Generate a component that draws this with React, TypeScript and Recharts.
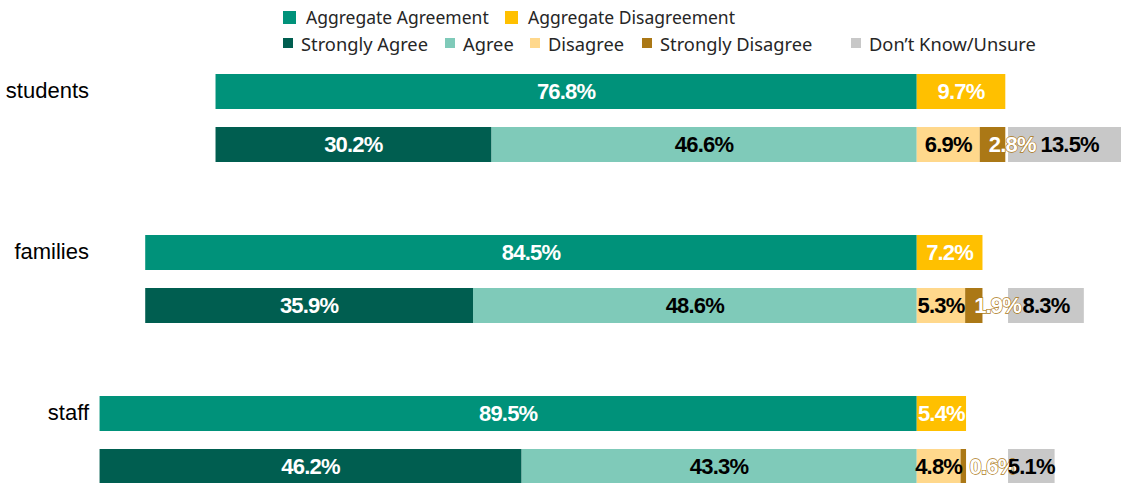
import { BarChart, Bar, XAxis, YAxis, LabelList } from 'recharts';

const groups = ['students', 'families', 'staff'];
const aggAgreement = [76.8, 84.5, 89.5];
const aggDisagreement = [9.7, 7.2, 5.4];
const stronglyAgree = [30.2, 35.9, 46.2];
const agree = [46.6, 48.6, 43.3];
const disagree = [6.9, 5.3, 4.8];
const stronglyDisagree = [2.8, 1.9, 0.6];
const unsure = [13.5, 8.3, 5.1];
// the "don't know" bar starts at a fixed point right of the disagree stack
const UNSURE_START = 10;

const COLORS = {
  aggAgree: '#00927A',
  aggDisagree: '#FFC000',
  stronglyAgree: '#005E50',
  agree: '#7FCAB9',
  disagree: '#FFD88C',
  stronglyDisagree: '#AB7816',
  unsure: '#C8C8C8',
};

// agreement goes left of zero (negative), disagreement right
const rows = groups.map((name, i) => ({
  name,
  aggAgree: -aggAgreement[i],
  aggDisagree: aggDisagreement[i],
  stronglyAgree: -stronglyAgree[i],
  agree: -agree[i],
  disagree: disagree[i],
  stronglyDisagree: stronglyDisagree[i],
  spacer: UNSURE_START - disagree[i] - stronglyDisagree[i],
  unsure: unsure[i],
}));

const labelFont = 'Liberation Sans, Arial, sans-serif';
const legendFont = '"Noto Sans", "Open Sans", sans-serif';

const fmt = (v: number) => `${Math.abs(v).toFixed(1)}%`;

function centerLabel(fill: string) {
  return (props: any) => {
    const { x, y, width, height, value } = props;
    return (
      <text
        x={x + width / 2}
        y={y + height / 2}
        textAnchor="middle"
        dominantBaseline="central"
        fill={fill}
        fontFamily={labelFont}
        fontWeight="bold"
        fontSize={22}
        letterSpacing={-0.8}
      >
        {fmt(value)}
      </text>
    );
  };
}

function outlinedLabel(props: any) {
  const { x, y, height, value } = props;
  return (
    <text
      x={x + 9}
      y={y + height / 2}
      textAnchor="start"
      dominantBaseline="central"
      fill="#fff"
      stroke={COLORS.stronglyDisagree}
      strokeWidth={1.3}
      paintOrder="stroke"
      fontFamily={labelFont}
      fontWeight="bold"
      fontSize={22}
      letterSpacing={-0.8}
    >
      {fmt(value)}
    </text>
  );
}

function GroupTick(props: any) {
  const { x, y, payload } = props;
  return (
    <text x={x} y={y - 27} textAnchor="end" dominantBaseline="central" fontSize={22} fontFamily={labelFont} fill="#000">
      {payload.value}
    </text>
  );
}

const legendRow1 = [
  { label: 'Aggregate Agreement', color: COLORS.aggAgree, left: 283 },
  { label: 'Aggregate Disagreement', color: COLORS.aggDisagree, left: 505 },
];
const legendRow2 = [
  { label: 'Strongly Agree', color: COLORS.stronglyAgree, left: 283 },
  { label: 'Agree', color: COLORS.agree, left: 445 },
  { label: 'Disagree', color: COLORS.disagree, left: 530 },
  { label: 'Strongly Disagree', color: COLORS.stronglyDisagree, left: 642 },
  { label: 'Don\u2019t Know/Unsure', color: COLORS.unsure, left: 851 },
];

function LegendItem({ label, color, left, top, box, gap, size }: any) {
  return (
    <div style={{ position: 'absolute', left, top, display: 'flex', alignItems: 'center', height: 24, transform: 'translateY(-50%)' }}>
      <span style={{ width: box, height: box, background: color, marginRight: gap, display: 'inline-block' }} />
      <span style={{ fontFamily: legendFont, fontSize: size, color: '#262626', whiteSpace: 'nowrap' }}>{label}</span>
    </div>
  );
}

export default function App() {
  return (
    <div style={{ position: 'absolute', left: 0, top: 0, width: 1121, height: 483, overflow: 'hidden', background: '#fff' }}>
      <BarChart
        layout="vertical"
        width={1145}
        height={520}
        data={rows}
        margin={{ top: 37, right: 0, bottom: 0, left: 0 }}
        barSize={35}
        barGap={18}
        stackOffset="sign"
      >
        <XAxis type="number" domain={[-90, 25]} hide />
        <YAxis type="category" dataKey="name" width={95} axisLine={false} tickLine={false} tickSize={0} tickMargin={6} tick={<GroupTick />} />
        <Bar dataKey="aggAgree" stackId="agg" fill={COLORS.aggAgree} isAnimationActive={false}>
          <LabelList dataKey="aggAgree" content={centerLabel('#fff')} />
        </Bar>
        <Bar dataKey="aggDisagree" stackId="agg" fill={COLORS.aggDisagree} isAnimationActive={false}>
          <LabelList dataKey="aggDisagree" content={centerLabel('#fff')} />
        </Bar>
        <Bar dataKey="agree" stackId="det" fill={COLORS.agree} isAnimationActive={false}>
          <LabelList dataKey="agree" content={centerLabel('#000')} />
        </Bar>
        <Bar dataKey="stronglyAgree" stackId="det" fill={COLORS.stronglyAgree} isAnimationActive={false}>
          <LabelList dataKey="stronglyAgree" content={centerLabel('#fff')} />
        </Bar>
        <Bar dataKey="disagree" stackId="det" fill={COLORS.disagree} isAnimationActive={false}>
          <LabelList dataKey="disagree" content={centerLabel('#000')} />
        </Bar>
        <Bar dataKey="stronglyDisagree" stackId="det" fill={COLORS.stronglyDisagree} isAnimationActive={false}>
          <LabelList dataKey="stronglyDisagree" content={outlinedLabel} />
        </Bar>
        <Bar dataKey="spacer" stackId="det" fill="transparent" isAnimationActive={false} />
        <Bar dataKey="unsure" stackId="det" fill={COLORS.unsure} isAnimationActive={false}>
          <LabelList dataKey="unsure" content={centerLabel('#000')} />
        </Bar>
      </BarChart>
      {legendRow1.map((it) => (
        <LegendItem key={it.label} {...it} top={17} box={13} gap={10} size={17.5} />
      ))}
      {legendRow2.map((it) => (
        <LegendItem key={it.label} {...it} top={43} box={10} gap={8} size={18.3} />
      ))}
    </div>
  );
}
